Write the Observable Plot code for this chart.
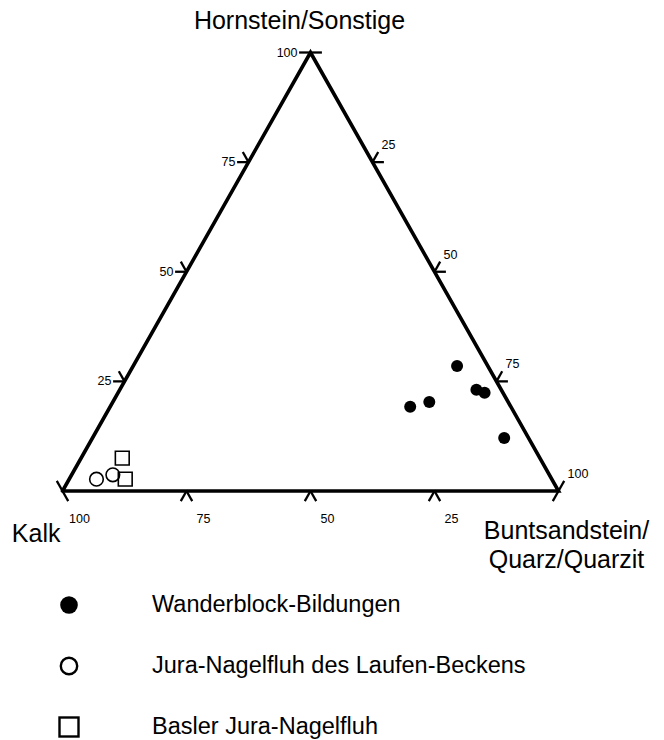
<!DOCTYPE html>
<html><head><meta charset="utf-8">
<script src="https://cdn.jsdelivr.net/npm/d3@7"></script>
<script src="https://cdn.jsdelivr.net/npm/@observablehq/plot@0.6"></script>
<style>
body{margin:0;background:#fff;font-family:"Liberation Sans",Arial,Helvetica,sans-serif;}
#chart svg{overflow:visible;display:block}
.row{height:61px;display:flex;align-items:center;}
.icon{width:30px;height:30px;margin-left:54px;flex:none}
.label{margin-left:68px;font-size:23.5px;color:#000;white-space:nowrap}
</style></head><body><div id="chart"></div><div id="legend"></div>
<script>
// Axis titles (corners)
const topTitle = "Hornstein/Sonstige";
const leftTitle = "Kalk";
const rightTitle = "Buntsandstein/\nQuarz/Quarzit";

// Tick positions and labels
const tickSteps = [0, 25, 50, 75, 100];
const hornTickLabels = [25, 50, 75, 100];   // left edge
const buntTickLabels = [25, 50, 75, 100];   // right edge
const kalkTickLabels = [100, 75, 50, 25];   // bottom edge

// Series (percent Kalk / Buntsandstein / Hornstein)
const seriesNames = ["Wanderblock-Bildungen", "Jura-Nagelfluh des Laufen-Beckens", "Basler Jura-Nagelfluh"];
const wanderKalk = [6.2, 5.0, 3.7, 15.9, 20.3, 4.9];
const wanderBunt = [65.3, 71.9, 73.9, 63.8, 60.5, 83.0];
const wanderHorn = [28.5, 23.1, 22.4, 20.3, 19.2, 12.1];
const laufenKalk = [91.8, 88.0];
const laufenBunt = [5.5, 8.3];
const laufenHorn = [2.7, 3.7];
const baslerKalk = [84.2, 86.0];
const baslerBunt = [8.3, 11.3];
const baslerHorn = [7.5, 2.7];

// ternary -> cartesian (x along base, y = Hornstein)
const tx = (a, b, c) => b + c / 2;
const ty = (a, b, c) => c;
const toPts = (K, B, H) => K.map((k, i) => ({a: k, b: B[i], c: H[i]}));
const wander = toPts(wanderKalk, wanderBunt, wanderHorn);
const laufen = toPts(laufenKalk, laufenBunt, laufenHorn);
const basler = toPts(baslerKalk, baslerBunt, baslerHorn);

const frame = [{a:100,b:0,c:0},{a:0,b:100,c:0},{a:0,b:0,c:100},{a:100,b:0,c:0}];

// tick segments: short extensions of iso-lines outside the triangle
const eps = 2.3;
const segs = [];
for (const v of tickSteps) {
  // left edge: a=100-v, b=0, c=v
  let p = {a:100 - v, b:0, c:v};
  if (v > 0) segs.push([p, {a:p.a + eps, b:-eps, c:p.c}]);
  if (v < 100) segs.push([p, {a:p.a, b:-eps, c:p.c + eps}]);
  // right edge: a=0, b=v, c=100-v
  p = {a:0, b:v, c:100 - v};
  if (v < 100) segs.push([p, {a:-eps, b:p.b + eps, c:p.c}]);
  if (v > 0) segs.push([p, {a:-eps, b:p.b, c:p.c + eps}]);
  // bottom edge: a=v, b=100-v, c=0
  p = {a:v, b:100 - v, c:0};
  if (v > 0) segs.push([p, {a:p.a, b:p.b + eps, c:-eps}]);
  if (v < 100) segs.push([p, {a:p.a + eps, b:p.b, c:-eps}]);
}

const leftLabels = hornTickLabels.map(v => ({a:100 - v, b:0, c:v, t:String(v)}));
const rightLabels = buntTickLabels.map(v => ({a:0, b:v, c:100 - v, t:String(v)}));
const bottomLabels = kalkTickLabels.map(v => ({a:v, b:100 - v, c:0, t:String(v)}));

const X = d => tx(d.a, d.b, d.c), Y = d => ty(d.a, d.b, d.c);
const font = "Liberation Sans, Arial, Helvetica, sans-serif";
const tickStyle = "letter-spacing:0.9px";

const plot = Plot.plot({
  width: 664,
  height: 574,
  margin: 0,
  x: {domain: [0, 100], range: [62, 558], axis: null},
  y: {domain: [0, 100], range: [490.5, 52], axis: null},
  style: {background: "white", overflow: "visible", fontFamily: font, color: "black"},
  marks: [
    Plot.link(segs, {x1: s => X(s[0]), y1: s => Y(s[0]), x2: s => X(s[1]), y2: s => Y(s[1]), stroke: "black", strokeWidth: 2.3, strokeLinecap: "butt"}),
    Plot.line(frame, {x: X, y: Y, stroke: "black", strokeWidth: 3.6, strokeLinejoin: "miter", strokeMiterlimit: 10}),
    Plot.text(leftLabels, {x: X, y: Y, text: "t", textAnchor: "end", dx: -13, dy: 0, fontSize: 12.5, fill: "black", style: tickStyle}),
    Plot.text(rightLabels, {x: X, y: Y, text: "t", textAnchor: "start", dx: 9, dy: -17, fontSize: 12.5, fill: "black", style: tickStyle}),
    Plot.text(bottomLabels, {x: X, y: Y, text: "t", textAnchor: "middle", dx: 17, dy: 28, fontSize: 12.5, fill: "black", style: tickStyle}),
    Plot.text([{a:0,b:0,c:100,t:topTitle}], {x: X, y: Y, text: "t", textAnchor: "middle", dx: -11, dy: -32, fontSize: 25, fill: "black"}),
    Plot.text([{a:100,b:0,c:0,t:leftTitle}], {x: X, y: Y, text: "t", textAnchor: "end", dx: -2, dy: 42.5, fontSize: 25, fill: "black"}),
    Plot.text([{a:0,b:100,c:0,t:rightTitle}], {x: X, y: Y, text: "t", textAnchor: "middle", lineAnchor: "top", lineHeight: 1.2, dx: 8, dy: 26.2, fontSize: 25, fill: "black"}),
    Plot.dot(wander, {x: X, y: Y, r: 6, fill: "black", stroke: "none"}),
    Plot.dot(laufen, {x: X, y: Y, r: 6.8, fill: "none", stroke: "black", strokeWidth: 1.6}),
    Plot.dot(basler, {x: X, y: Y, r: 7.8, symbol: "square", fill: "none", stroke: "black", strokeWidth: 1.6})
  ]
});
document.getElementById("chart").append(plot);

// legend
const icons = [
  '<svg class="icon" viewBox="0 0 30 30"><circle cx="15" cy="15" r="8.8" fill="black"/></svg>',
  '<svg class="icon" viewBox="0 0 30 30"><circle cx="15" cy="15" r="8.2" fill="none" stroke="black" stroke-width="2.4"/></svg>',
  '<svg class="icon" viewBox="0 0 30 30"><rect x="5.5" y="5.5" width="19" height="19" fill="none" stroke="black" stroke-width="2.4"/></svg>'
];
const legend = document.getElementById("legend");
seriesNames.forEach((name, i) => {
  const row = document.createElement("div");
  row.className = "row";
  row.innerHTML = icons[i] + '<span class="label"></span>';
  row.querySelector(".label").textContent = name;
  legend.append(row);
});
</script></body></html>
